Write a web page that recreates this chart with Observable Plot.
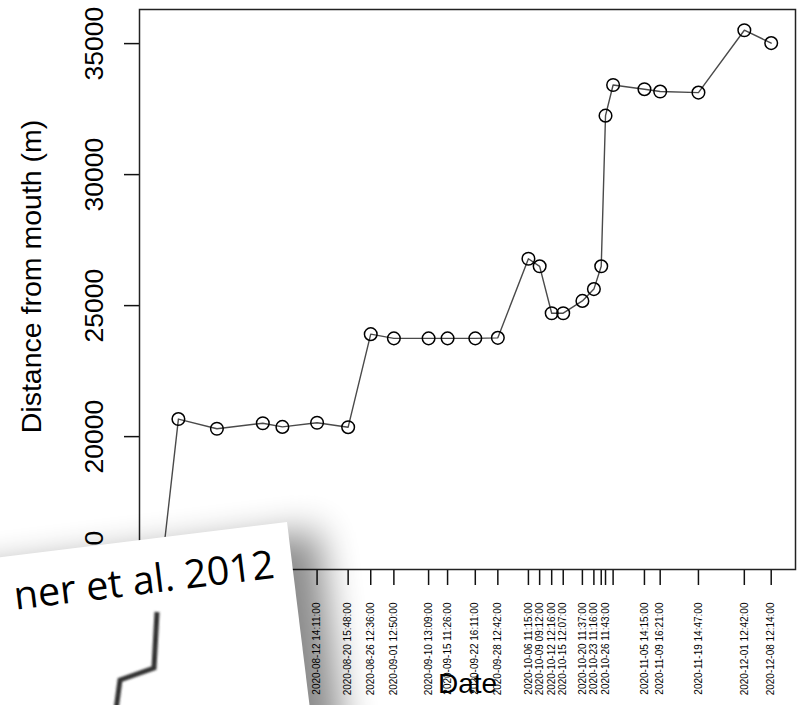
<!DOCTYPE html>
<html>
<head>
<meta charset="utf-8">
<script src="https://cdn.jsdelivr.net/npm/d3@7"></script>
<script src="https://cdn.jsdelivr.net/npm/@observablehq/plot@0.6"></script>
<style>
  html, body { margin: 0; padding: 0; background: #fff; }
  #wrap { position: relative; width: 802px; height: 705px; overflow: hidden; }
  #overlay { position: absolute; left: 0; top: 0; pointer-events: none; }
</style>
</head>
<body>
<div id="wrap"></div>
<script>
// ---- data ----
const sampleDates = [
  "2020-07-03 19:00:00", "2020-07-07 14:00:00", "2020-07-17 14:00:00", "2020-07-29 12:00:00",
  "2020-08-03 14:00:00", "2020-08-12 14:11:00", "2020-08-20 15:48:00", "2020-08-26 12:36:00",
  "2020-09-01 12:50:00", "2020-09-10 13:09:00", "2020-09-15 11:26:00", "2020-09-22 16:11:00",
  "2020-09-28 12:42:00", "2020-10-06 11:15:00", "2020-10-09 09:12:00", "2020-10-12 12:16:00",
  "2020-10-15 12:07:00", "2020-10-20 11:37:00", "2020-10-23 11:16:00", "2020-10-25 09:00:00",
  "2020-10-26 11:43:00", "2020-10-28 11:00:00", "2020-11-05 14:15:00", "2020-11-09 16:21:00",
  "2020-11-19 14:47:00", "2020-12-01 12:42:00", "2020-12-08 12:14:00"
];
const distance = [
  15720, 20670, 20300, 20510,
  20370, 20530, 20360, 23910,
  23750, 23750, 23750, 23750,
  23770, 26790, 26500, 24710,
  24710, 25180, 25630, 26500,
  32250, 33420, 33260, 33170,
  33130, 35510, 35020
];
const yTicks = [15000, 20000, 25000, 30000, 35000];
const xLabel = "Date";
const yLabel = "Distance from mouth (m)";

// ---- build ----
const parse = d3.utcParse("%Y-%m-%d %H:%M:%S");
const fmt = d3.utcFormat("%Y-%m-%d %H:%M:%S");
const dates = sampleDates.map(parse);
const data = dates.map((d, i) => ({date: d, dist: distance[i]}));

const W = 802, H = 705;
const mL = 139, mR = 7, mT = 9, mB = 136;

// R-style 4% expansion of the data range
const [xa, xb] = d3.extent(dates);
const xpad = (xb - xa) * 0.04;
const xDomain = [new Date(+xa - xpad), new Date(+xb + xpad)];
const [ya, yb] = d3.extent(distance);
const ypad = (yb - ya) * 0.04;
const yDomain = [ya - ypad, yb + ypad];

// R drops tick labels that would overlap the previous drawn one
const xs = Plot.scale({x: {type: "utc", domain: xDomain, range: [mL, W - mR]}});
const shown = [];
let last = -Infinity;
for (const d of dates) {
  const px = xs.apply(d);
  if (px - last >= 10) { shown.push(d); last = px; }
}

const font = "'Liberation Sans', Arial, Helvetica, sans-serif";

const chart = Plot.plot({
  width: W, height: H,
  marginLeft: mL, marginRight: mR, marginTop: mT, marginBottom: mB,
  x: {type: "utc", domain: xDomain, axis: null},
  y: {domain: yDomain, axis: null},
  style: {fontFamily: font, background: "#fff", color: "#000", overflow: "visible"},
  marks: [
    Plot.axisX({ticks: dates, tickSize: 16, tickFormat: () => "", label: null, strokeWidth: 1.5, stroke: "#111"}),
    Plot.text(shown, {x: d => d, frameAnchor: "bottom", dy: 33, rotate: -90,
      textAnchor: "end", lineAnchor: "middle", fontSize: 10, fill: "#000", text: d => fmt(d)}),
    Plot.axisY({ticks: yTicks, tickSize: 15, tickFormat: () => "", label: null, strokeWidth: 1.5, stroke: "#111"}),
    Plot.text(yTicks, {y: d => d, frameAnchor: "left", dx: -37, rotate: -90,
      textAnchor: "middle", lineAnchor: "bottom", fontSize: 26.5, fill: "#000", text: d => String(d)}),
    Plot.text([yLabel], {frameAnchor: "left", dx: -99, dy: -13, rotate: -90,
      textAnchor: "middle", lineAnchor: "bottom", fontSize: 28.5, fill: "#000", text: d => d}),
    Plot.text([xLabel], {frameAnchor: "bottom", dy: 123, textAnchor: "middle",
      lineAnchor: "bottom", fontSize: 28, fill: "#000", text: d => d}),
    Plot.frame({stroke: "#222", strokeWidth: 1.5}),
    Plot.line(data, {x: "date", y: "dist", stroke: "#4a4a4a", strokeWidth: 1.4}),
    Plot.dot(data, {x: "date", y: "dist", r: 6.3, stroke: "#000", strokeWidth: 1.5, fill: "none"})
  ]
});
document.getElementById("wrap").appendChild(chart);

// ---- decorative overlay: tilted paper card with shadow ----
const overlay = `
<svg id="overlay" width="${W}" height="${H}" xmlns="http://www.w3.org/2000/svg">
  <defs>
    <filter id="sh" x="-50%" y="-50%" width="200%" height="200%"><feGaussianBlur stdDeviation="18"/></filter>
    <filter id="soft" x="-20%" y="-20%" width="140%" height="140%"><feGaussianBlur stdDeviation="0.8"/></filter>
  </defs>
  <g transform="translate(287,522) rotate(-7)">
    <rect x="-640" y="8" width="660" height="440" fill="#000" opacity="0.45" filter="url(#sh)" transform="translate(10,4)"/>
    <rect x="-640" y="0" width="640" height="420" fill="#fff"/>
    <text x="-18" y="54" text-anchor="end" font-family="'Open Sans', Lato, sans-serif" font-size="39.5" fill="#000">ner et al. 2012</text>
  </g>
  <polyline points="157,612 154,668 120,680 116,710" stroke="#333" stroke-width="5" fill="none" stroke-linejoin="miter" filter="url(#soft)"/>
</svg>`;
document.getElementById("wrap").insertAdjacentHTML("beforeend", overlay);
</script>
</body>
</html>
